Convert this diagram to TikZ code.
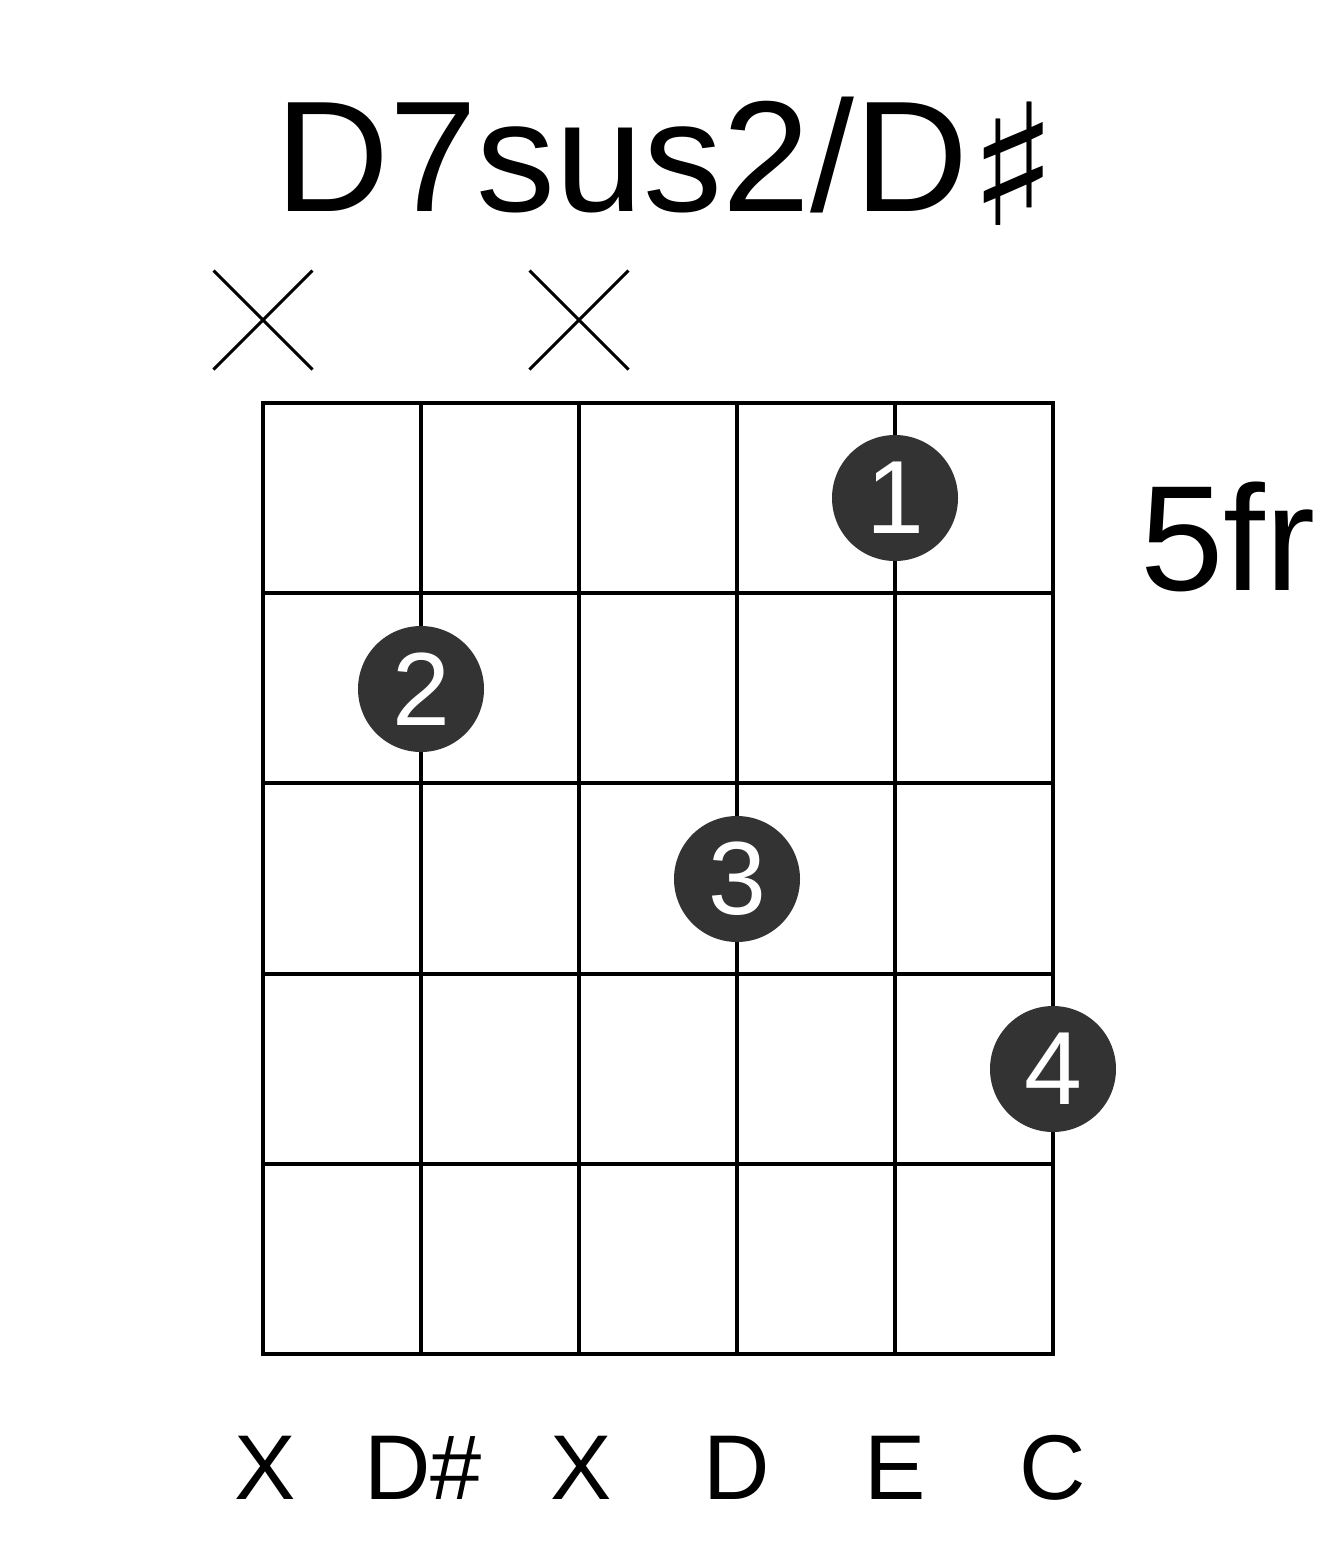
\documentclass[tikz,border=0pt]{standalone}
\usepackage{fontspec}
\setmainfont{Liberation Sans}
\newfontfamily\symfont{DejaVu Sans}
\usetikzlibrary{positioning,shapes.misc}
\definecolor{dotgray}{HTML}{333333}

\begin{document}
\begin{tikzpicture}[x=1pt,y=-1pt]
      \useasboundingbox (0,0) rectangle (1317,1551);
      \node (title) [anchor=base, font=\fontsize{158}{158}\selectfont] at (667,211) {D7sus2/D\raisebox{-14pt}{\scalebox{1.18}[1.07]{\symfont ♯}}};
      \node (fret) [anchor=base west, font=\fontsize{150}{150}\selectfont] at (1137,590) {5fr};
      \begin{scope}[line width=4pt]
        \foreach \s in {0,...,5}
          \draw (263+158*\s,403) -- (263+158*\s,1354);
        \foreach \f in {0,...,5}
          \draw (261,403+190.2*\f) -- (1055,403+190.2*\f);
      \end{scope}
      \begin{scope}[every node/.style={cross out,draw,line width=3pt,minimum size=96pt,inner sep=0pt}]
        \node (m6) at (263,320) {};
        \node (m4) at (579,320) {};
      \end{scope}
      \begin{scope}[every node/.style={circle,fill=dotgray,text=white,minimum size=126pt,inner sep=0pt,font=\fontsize{104}{104}\selectfont}]
        \node (f1) at (895,498) {1};
        \node (f2) at (421,689) {2};
        \node (f3) at (737,879) {3};
        \node (f4) at (1053,1069) {4};
      \end{scope}
      \begin{scope}[every node/.style={anchor=base,font=\fontsize{92}{92}\selectfont}]
        \node (n6) at (265,1499) {X};
        \node (n5) at (423,1499) {D\#};
        \node (n4) at (581,1499) {X};
        \node (n3) at (737,1499) {D};
        \node (n2) at (895,1499) {E};
        \node (n1) at (1053,1499) {C};
      \end{scope}
    \end{tikzpicture}
\end{document}
